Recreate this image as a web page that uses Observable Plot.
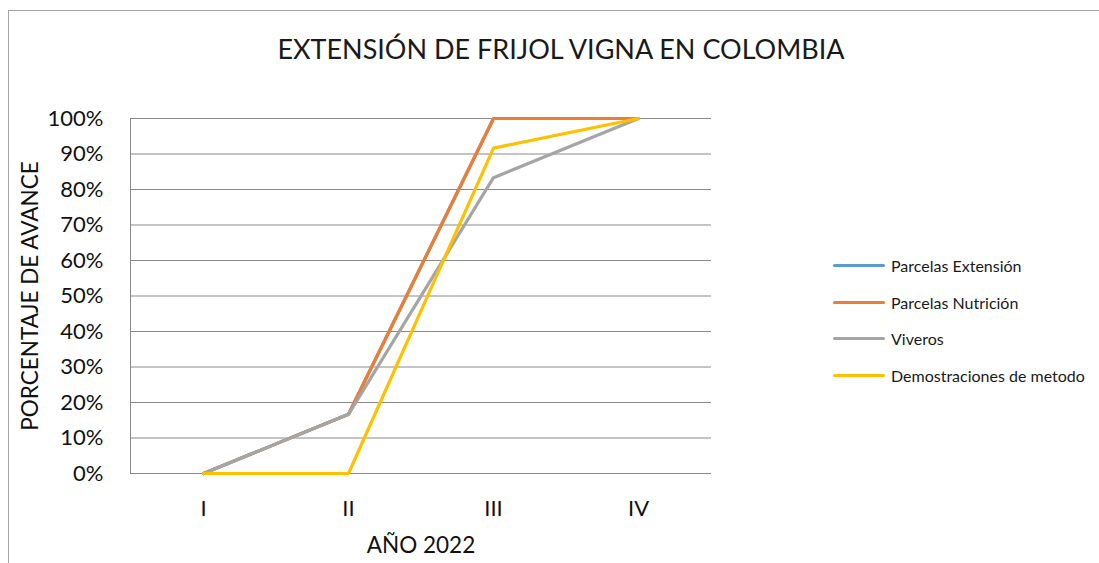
<!DOCTYPE html>
<html>
<head>
<meta charset="utf-8">
<script src="https://cdn.jsdelivr.net/npm/d3@7"></script>
<script src="https://cdn.jsdelivr.net/npm/@observablehq/plot@0.6"></script>
<style>
  html, body { margin: 0; padding: 0; background: #fff; }
  #wrap { position: relative; width: 1099px; height: 563px; overflow: hidden; font-family: Lato, "Open Sans", sans-serif; color: #000; }
  #border { position: absolute; left: 8px; top: 10px; width: 1100px; height: 600px; border: 1px solid #a6a6a6; box-sizing: border-box; }
  #title { position: absolute; left: 0; width: 1122px; top: 32px; text-align: center; font-size: 27px; color: #1a1a1a; }
  #legend { position: absolute; left: 833px; top: 247px; font-size: 16px; color: #1a1a1a; }
  .item { display: flex; align-items: center; height: 36.7px; }
  .sw { width: 52px; height: 3px; border-radius: 2px; margin-right: 6px; }
  #chart { position: absolute; left: 0; top: 0; }
</style>
</head>
<body>
<div id="wrap">
  <div id="border"></div>
  <div id="chart"></div>
  <div id="title">EXTENSIÓN DE FRIJOL VIGNA EN COLOMBIA</div>
  <div id="legend"></div>
</div>
<script>
const quarters = ["I", "II", "III", "IV"];
const seriesNames = ["Parcelas Extensión", "Parcelas Nutrición", "Viveros", "Demostraciones de metodo"];
const seriesColors = ["#5b9bd5", "#ed7d31", "#a5a5a5", "#ffc000"];
const parcelasExtension = [0, 16.67, 100, 100];
const parcelasNutricion = [0, 16.67, 100, 100];
const viveros = [0, 16.67, 83.33, 100];
const demostraciones = [0, 0, 91.67, 100];
const yTicks = [0, 10, 20, 30, 40, 50, 60, 70, 80, 90, 100];

const allSeries = [parcelasExtension, parcelasNutricion, viveros, demostraciones];
const data = [];
allSeries.forEach((vals, i) => vals.forEach((v, j) => data.push({serie: seriesNames[i], q: quarters[j], v})));

const plot = Plot.plot({
  width: 1099,
  height: 563,
  marginLeft: 130,
  marginRight: 388,
  marginTop: 118,
  marginBottom: 90,
  style: {fontFamily: "Lato, 'Open Sans', sans-serif", background: "transparent", color: "#000"},
  x: {type: "point", domain: quarters, padding: 0.5, label: null},
  y: {domain: [0, 100], ticks: yTicks, label: null},
  color: {domain: seriesNames, range: seriesColors},
  marks: [
    Plot.gridY(yTicks, {stroke: "#898989", strokeOpacity: 1, strokeWidth: 1}),
    Plot.frame({anchor: "left", stroke: "#898989"}),
    Plot.axisY(yTicks, {tickSize: 0, tickPadding: 27, fontSize: 22, tickFormat: d => d + "%", fill: "#111", label: null}),
    Plot.axisX({tickSize: 0, tickPadding: 27, fontSize: 22, fill: "#111", label: null}),
    Plot.text(["PORCENTAJE DE AVANCE"], {frameAnchor: "left", dx: -100, rotate: -90, textAnchor: "middle", fontSize: 22.5, fill: "#111"}),
    Plot.text(["AÑO 2022"], {frameAnchor: "bottom", dy: 79, fontSize: 22.5, fill: "#111"}),
    Plot.line(data, {x: "q", y: "v", z: "serie", stroke: "serie", strokeWidth: 3.2, strokeLinejoin: "miter", strokeLinecap: "round"})
  ]
});
document.getElementById("chart").appendChild(plot);

const legend = document.getElementById("legend");
seriesNames.forEach((n, i) => {
  const it = document.createElement("div");
  it.className = "item";
  it.innerHTML = `<span class="sw" style="background:${seriesColors[i]}"></span><span>${n}</span>`;
  legend.appendChild(it);
});
</script>
</body>
</html>
